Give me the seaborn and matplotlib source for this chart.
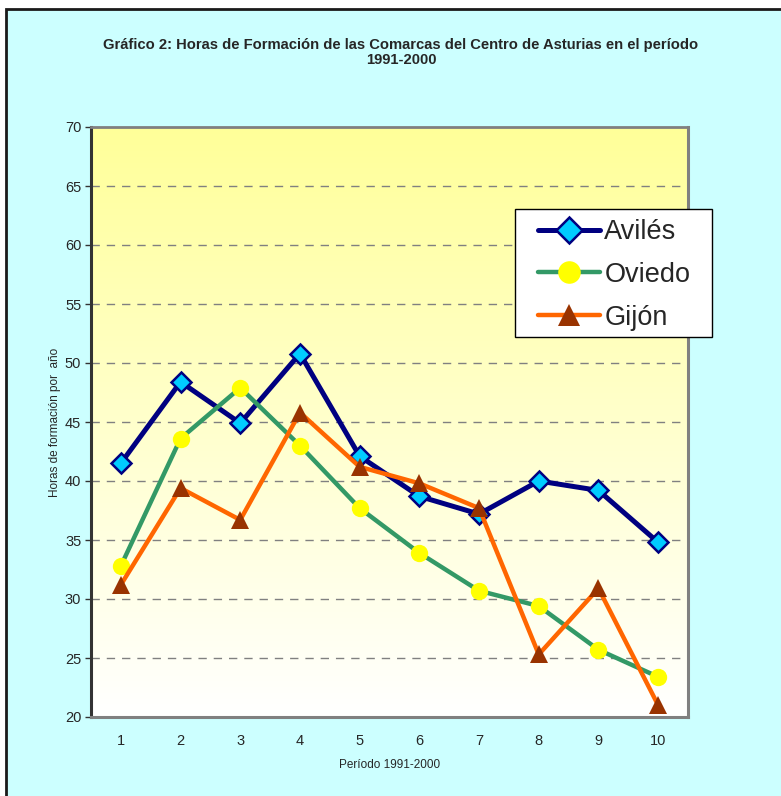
import numpy as np
import pandas as pd
import matplotlib
matplotlib.use("Agg")
import matplotlib.pyplot as plt
from matplotlib.patches import Rectangle
import seaborn as sns

periodos = [1, 2, 3, 4, 5, 6, 7, 8, 9, 10]
aviles = [41.5, 48.4, 44.9, 50.8, 42.1, 38.7, 37.2, 40.0, 39.2, 34.8]
oviedo = [32.8, 43.6, 47.9, 43.0, 37.7, 33.9, 30.7, 29.4, 25.7, 23.4]
gijon = [31.2, 39.4, 36.7, 45.8, 41.2, 39.8, 37.7, 25.3, 30.9, 21.0]
y_ticks = [20, 25, 30, 35, 40, 45, 50, 55, 60, 65, 70]

sns.set_theme(style="white")
plt.rcParams["font.family"] = ["Liberation Sans", "DejaVu Sans"]

W, H = 781, 796
fig = plt.figure(figsize=(W / 100, H / 100), dpi=100)
fig.patch.set_facecolor("white")

# framed cyan chart area
fig.add_artist(Rectangle((6 / W, -0.05), 1.0, 1 - 9 / H + 0.05,
                         transform=fig.transFigure, facecolor="#CCFFFF",
                         edgecolor="#1a1a1a", linewidth=2.0, zorder=0))

ax = fig.add_axes([91 / W, 79 / H, 597 / W, 590 / H])
ax.set_facecolor("none")

# yellow-to-white gradient plot background
grad = np.linspace(0, 1, 256).reshape(-1, 1)
top = np.array([1.0, 1.0, 0.6])
bot = np.array([1.0, 1.0, 1.0])
img = top * (1 - grad[..., None]) + bot * grad[..., None]
ax.imshow(img, extent=[0.5, 10.5, 20, 70], aspect="auto", zorder=0,
          origin="upper")

for yv in y_ticks[1:-1]:
    ax.axhline(yv, color="#808080", linestyle=(0, (6, 5)), linewidth=1.0,
               zorder=1)

series = [
    ("Avilés", aviles, dict(color="#000080", marker="D", markersize=10,
                             markerfacecolor="#00CCFF",
                             markeredgecolor="#000080", markeredgewidth=1.8,
                             linewidth=3.6)),
    ("Oviedo", oviedo, dict(color="#339966", marker="o", markersize=12.5,
                             markerfacecolor="#FFFF00",
                             markeredgecolor="#FFFF00", markeredgewidth=0,
                             linewidth=3.2)),
    ("Gijón", gijon, dict(color="#FF6600", marker="^", markersize=12.5,
                           markerfacecolor="#993300",
                           markeredgecolor="#993300", markeredgewidth=0,
                           linewidth=3.2)),
]
for name, vals, kw in series:
    sns.lineplot(x=periodos, y=vals, ax=ax, label=name, zorder=3, **kw)

ax.set_xlim(0.5, 10.5)
ax.set_ylim(20, 70)
ax.set_yticks(y_ticks)
ax.set_xticks(periodos)
ax.set_xticklabels([str(p) for p in periodos], fontsize=10.5)
ax.set_yticklabels([str(v) for v in y_ticks], fontsize=10.5)
ax.tick_params(axis="y", which="major", direction="out", length=4,
               width=1, color="#333333", left=True, pad=3)
ax.tick_params(axis="x", which="major", length=0, pad=12)

for side, sp in ax.spines.items():
    sp.set_visible(True)
    sp.set_zorder(4)
ax.spines["left"].set_color("#333333")
ax.spines["left"].set_linewidth(2.2)
ax.spines["bottom"].set_color("#808080")
ax.spines["bottom"].set_linewidth(2.2)
ax.spines["top"].set_color("#808080")
ax.spines["top"].set_linewidth(2.0)
ax.spines["right"].set_color("#808080")
ax.spines["right"].set_linewidth(2.2)

ax.set_xlabel("Período 1991-2000", fontsize=8.5, labelpad=8)
ax.set_ylabel("Horas de formación por  año", fontsize=8.5, labelpad=3)

fig.text(401 / W, 1 - 45 / H,
         "Gráfico 2: Horas de Formación de las Comarcas del Centro de Asturias en el período",
         ha="center", va="center", fontsize=10.6, fontweight="bold")
fig.text(401 / W, 1 - 60 / H, "1991-2000", ha="center", va="center",
         fontsize=10.6, fontweight="bold")

# legend box drawn as its own frame, entries placed inside it
ax.add_patch(Rectangle((515 / W, 1 - 337 / H), 197 / W, 128 / H,
                       transform=fig.transFigure, facecolor="white",
                       edgecolor="black", linewidth=1.0, zorder=5,
                       clip_on=False))
leg = ax.legend(loc="upper left", bbox_to_anchor=(538 / W, 1 - 219 / H),
                bbox_transform=fig.transFigure, borderaxespad=0,
                borderpad=0, fontsize=19.5, frameon=False, markerscale=1.3,
                handlelength=2.3, handletextpad=0.15, labelspacing=0.62)
leg.set_zorder(6)

fig.savefig("out.png", dpi=100, facecolor=fig.get_facecolor())
